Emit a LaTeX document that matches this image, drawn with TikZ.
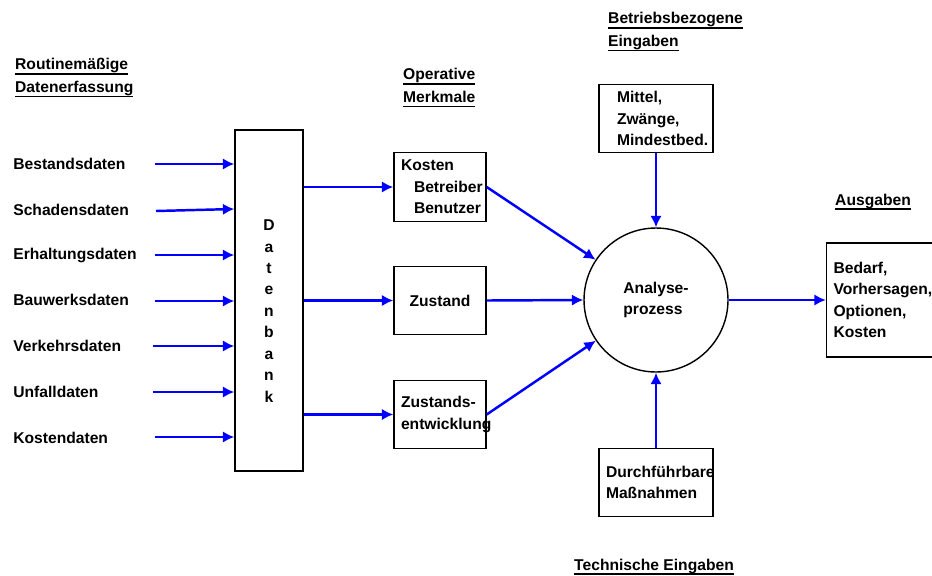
\documentclass[tikz,border=0pt]{standalone}
\usepackage{fontspec}
\setmainfont{Liberation Sans}
\usetikzlibrary{arrows.meta}

\newsavebox{\ulinbox}
\newcommand{\ulin}[1]{\sbox{\ulinbox}{#1}\rlap{\rule[-2.6pt]{\wd\ulinbox}{0.9pt}}\usebox{\ulinbox}}

\tikzset{
  every node/.style={font=\fontsize{8.9}{12.2}\selectfont\bfseries},
  flow/.style={->, blue, line width=1.4pt},
  mbox/.style={draw, line width=0.8pt, inner ysep=0pt, inner xsep=0.14cm,
    minimum height=1.37cm, align=left},
  title/.style={anchor=west, align=left, font=\fontsize{8.9}{13}\selectfont\bfseries},
  item/.style={anchor=west, inner sep=0pt}
}

\begin{document}
\begin{tikzpicture}[x=0.02cm, y=-0.02cm, >={Latex[length=6.5pt,width=6.5pt]}]
  \useasboundingbox (0,0) rectangle (932,575);
  \clip (0,0) rectangle (932,575);

  % Ueberschriften
  \node[title] (t1) at (9,78) {\ulin{Routinemäßige}\\\ulin{Datenerfassung}};
  \node[title] (t2) at (397,88) {\ulin{Operative}\\\ulin{Merkmale}};
  \node[title] (t3) at (602,32) {\ulin{Betriebsbezogene}\\\ulin{Eingaben}};
  \node[title] (t4) at (829,202) {\ulin{Ausgaben}};
  \node[title] (t5) at (568,567) {\ulin{Technische Eingaben}};

  % Datenbank
  \node[draw, line width=0.8pt, minimum width=1.36cm, minimum height=6.82cm] (db) at (269,300.5) {};
  \node[align=center] (dbname) at (269,311) {D\\a\\t\\e\\n\\b\\a\\n\\k};

  % Eingangsdaten
  \node[item] (d1) at (13,164) {Bestandsdaten};
  \node[item] (d2) at (13,210) {Schadensdaten};
  \node[item] (d3) at (13,255) {Erhaltungsdaten};
  \node[item] (d4) at (13,300) {Bauwerksdaten};
  \node[item] (d5) at (13,346) {Verkehrsdaten};
  \node[item] (d6) at (13,392) {Unfalldaten};
  \node[item] (d7) at (13,438) {Kostendaten};
  \draw[flow] (155,164) -- (155,164 -| db.west);
  \draw[flow] (156,211) -- (db.west |- 0,209);
  \draw[flow] (155,255) -- (155,255 -| db.west);
  \draw[flow] (155,301) -- (155,301 -| db.west);
  \draw[flow] (153,346) -- (153,346 -| db.west);
  \draw[flow] (153,392) -- (153,392 -| db.west);
  \draw[flow] (155,437) -- (155,437 -| db.west);

  % Operative Merkmale
  \node[mbox, text width=1.56cm] (kosten) at (440,187)
    {\mbox{Kosten}\\\mbox{\hspace*{0.26cm}Betreiber}\\\mbox{\hspace*{0.26cm}Benutzer}};
  \node[mbox, text width=1.56cm, align=center] (zustand) at (440,300.5) {Zustand};
  \node[mbox, text width=1.56cm] (entw) at (440,414.5) {\mbox{Zustands-}\\\mbox{entwicklung}};
  \draw[flow] (db.east |- kosten.west) -- (kosten.west);
  \draw[flow] (db.east |- zustand.west) -- (zustand.west);
  \draw[flow] (db.east |- entw.west) -- (entw.west);

  % Analyseprozess
  \node[draw, circle, line width=0.8pt, minimum size=2.88cm, align=left] (ana) at (656,300)
    {Analyse-\\prozess};
  \draw[flow] (kosten.east) -- (ana);
  \draw[flow] (zustand.east) -- (ana.west);
  \draw[flow] (entw.east) -- (ana);

  % Eingaben
  \node[mbox, inner xsep=0.36cm, text width=1.56cm] (mittel) at (656,118.5)
    {\mbox{Mittel,}\\\mbox{Zwänge,}\\\mbox{Mindestbed.}};
  \node[mbox, text width=2.0cm] (mass) at (656,482.5) {\mbox{Durchführbare}\\\mbox{Maßnahmen}};
  \draw[flow] (mittel.south) -- (ana.north);
  \draw[flow] (mass.north) -- (ana.south);

  % Ausgaben
  \node[mbox, text width=2.1cm, minimum height=2.28cm] (aus) at (886,300)
    {\mbox{Bedarf,}\\\mbox{Vorhersagen,}\\\mbox{Optionen,}\\\mbox{Kosten}};
  \draw[flow] (ana.east) -- (aus.west);
\end{tikzpicture}
\end{document}
